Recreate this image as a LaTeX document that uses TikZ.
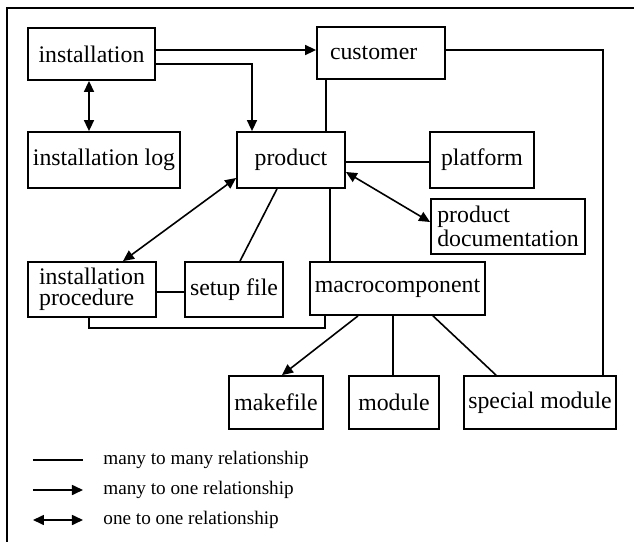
\documentclass[tikz,border=0pt]{standalone}
\usepackage{fontspec}
\setmainfont{Liberation Serif}
\usetikzlibrary{arrows.meta}
\begin{document}
\begin{tikzpicture}[x=0.5pt,y=-0.5pt,
  box/.style={draw, line width=0.9pt, inner sep=0pt, font=\fontsize{11.9}{10.6}\selectfont, align=center},
  conn/.style={line width=0.8pt},
  mo/.style={conn, -{Triangle[length=5.5pt,width=5pt]}},
  oo/.style={conn, {Triangle[length=5.5pt,width=5pt]}-{Triangle[length=5.5pt,width=5pt]}},
  legtext/.style={anchor=west, inner sep=0pt, font=\fontsize{9.6}{11}\selectfont}]
\useasboundingbox (0,0) rectangle (634,542);
% frame
\draw[line width=0.8pt] (7,542) -- (7,8) -- (634,8);
% boxes
\node[box, minimum width=63.5pt, minimum height=26pt] (inst) at (91.5,54) {installation};
\node[box, minimum width=76pt, minimum height=28pt] (ilog) at (104,160) {installation log};
\node[box, minimum width=54pt, minimum height=28pt] (prod) at (291,160) {product};
\node[box, minimum height=26pt, text width=51pt, inner xsep=6.5pt, align=left] (cust) at (381,53) {customer};
\node[box, minimum width=52pt, minimum height=28pt] (plat) at (482,160) {platform};
\node[box, minimum width=77pt, minimum height=27.5pt, align=left] (pdoc) at (508,226.5) {product\\documentation};
\node[box, minimum width=64pt, minimum height=27.5pt, align=left] (iproc) at (92,289.5) {installation\\procedure};
\node[box, minimum width=49pt, minimum height=27.5pt] (setup) at (234,289.5) {setup file};
\node[box, minimum width=87.5pt, minimum height=26.5pt] (macro) at (397.5,288.5) {macrocomponent};
\node[box, minimum width=47pt, minimum height=26.5pt] (make) at (276,402.5) {makefile};
\node[box, minimum width=45pt, minimum height=26.5pt] (module) at (394,402.5) {module};
\node[box, minimum width=76pt, minimum height=26.5pt] (smod) at (540,402.5) {special module};
% connectors
\draw[mo] (inst.east |- 0,50) -- (cust.west |- 0,50);
\draw[mo] (inst.east |- 0,64) -| (252,0 |- prod.north);
\draw[oo] (89,0 |- inst.south) -- (89,0 |- ilog.north);
\draw[conn] (326,0 |- cust.south) -- (326,0 |- prod.north);
\draw[conn] (cust.east |- 0,50) -| (603,0 |- smod.north);
\draw[conn] (prod.east |- 0,162) -- (plat.west |- 0,162);
\draw[oo] (prod.east |- 0,172) -- (pdoc.west |- 0,222);
\draw[oo] (prod.west |- 0,178) -- (123,0 |- iproc.north);
\draw[conn] (277,0 |- prod.south) -- (240,0 |- setup.north);
\draw[conn] (330,0 |- prod.south) -- (330,0 |- macro.north);
\draw[conn] (iproc.east |- 0,292) -- (setup.west |- 0,292);
\draw[conn] (89,0 |- iproc.south) |- (325,328) -- (325,0 |- macro.south);
\draw[mo] (358,0 |- macro.south) -- (282,0 |- make.north);
\draw[conn] (393,0 |- macro.south) -- (393,0 |- module.north);
\draw[conn] (433,0 |- macro.south) -- (496,0 |- smod.north);
% legend
\coordinate (l1a) at (33,460); \coordinate (l1b) at (83,460);
\coordinate (l2a) at (33,490); \coordinate (l2b) at (83,490);
\coordinate (l3a) at (33,520); \coordinate (l3b) at (83,520);
\draw[conn] (l1a) -- (l1b);
\draw[mo] (l2a) -- (l2b);
\draw[oo] (l3a) -- (l3b);
\node[legtext] (t1) at (103,460) {many to many relationship};
\node[legtext] (t2) at (103,490) {many to one relationship};
\node[legtext] (t3) at (103,520) {one to one relationship};
\end{tikzpicture}
\end{document}
